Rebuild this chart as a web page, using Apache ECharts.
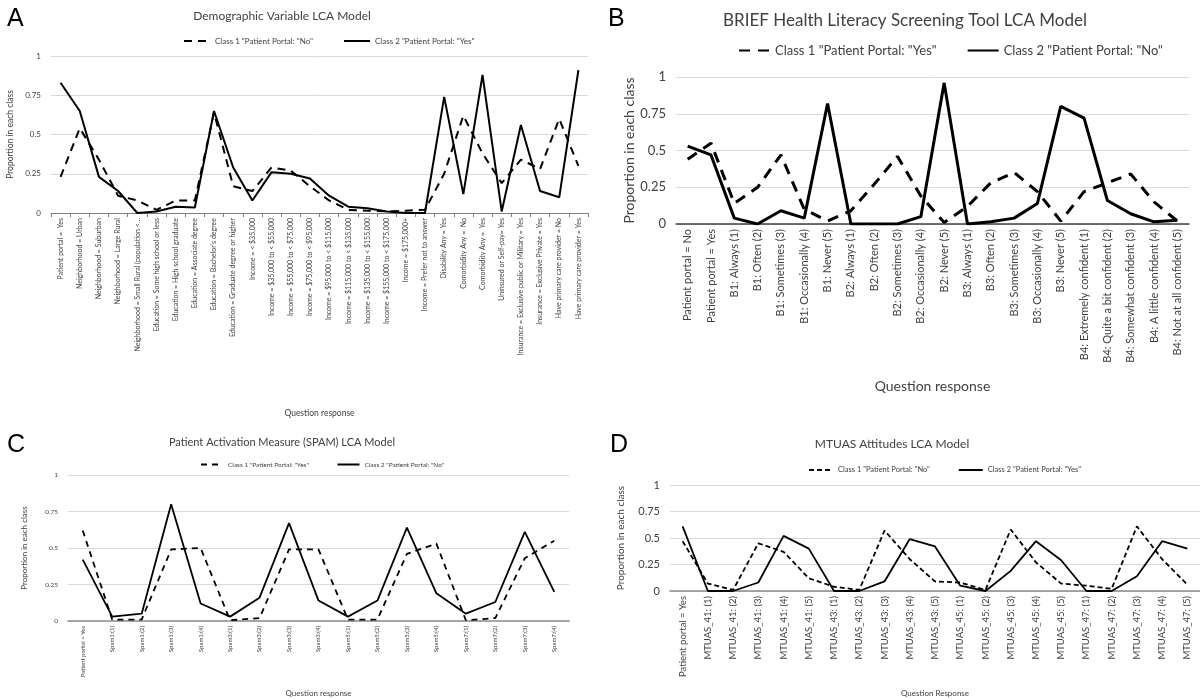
<!DOCTYPE html>
<html>
<head>
<meta charset="utf-8">
<script src="https://cdn.jsdelivr.net/npm/echarts@6/dist/echarts.min.js"></script>
<style>
  html, body { margin: 0; padding: 0; background: #fff; }
  #chart { width: 1200px; height: 699px; }
</style>
</head>
<body>
<div id="chart"></div>
<script>
// ---- data ----
var catsA = ['Patient portal =  Yes', 'Neighborhood = Urban', 'Neighborhood = Suburban', 'Neighborhood = Large Rural',
  'Neighborhood = Small Rural (population <\u2026', 'Education = Some high school or less', 'Education = High school graduate',
  'Education = Associate degree', 'Education = Bachelor\u2019s degree', 'Education = Graduate degree or higher',
  'Income = < $35,000', 'Income = $35,000 to < $55,000', 'Income = $55,000 to < $75,000', 'Income = $75,000 to < $95,000',
  'Income = $95,000 to < $115,000', 'Income = $115,000 to < $135,000', 'Income = $135,000 to < $155,000',
  'Income = $155,000 to < $175,000', 'Income = $175,000+', 'Income = Prefer not to answer', 'Disability Any = Yes',
  'Comorbidity Any =  No', 'Comorbidity Any =  Yes', 'Uninsured or Self-pay= Yes',
  'Insurance = Exclusive public or Military = Yes', 'Insurance = Exclusive Private = Yes',
  'Have primary care provider = No', 'Have primary care provider = Yes'];
var a_class1 = [0.23, 0.54, 0.34, 0.11, 0.08, 0.02, 0.08, 0.08, 0.64, 0.17, 0.14, 0.29, 0.27, 0.17, 0.08, 0.02,
  0.015, 0.01, 0.015, 0.02, 0.25, 0.62, 0.38, 0.19, 0.34, 0.28, 0.60, 0.30];
var a_class2 = [0.83, 0.65, 0.23, 0.14, 0.0, 0.01, 0.04, 0.035, 0.65, 0.29, 0.08, 0.26, 0.25, 0.22, 0.11, 0.04,
  0.03, 0.01, 0.0, 0.0, 0.74, 0.12, 0.88, 0.01, 0.56, 0.14, 0.10, 0.91];

var catsB = ['Patient portal = No', 'Patient portal = Yes', 'B1: Always (1)', 'B1: Often (2)', 'B1: Sometimes (3)',
  'B1: Occasionally (4)', 'B1: Never (5)', 'B2: Always (1)', 'B2: Often (2)', 'B2: Sometimes (3)', 'B2: Occasionally (4)',
  'B2: Never (5)', 'B3: Always (1)', 'B3: Often (2)', 'B3: Sometimes (3)', 'B3: Occasionally (4)', 'B3: Never (5)',
  'B4: Extremely confident (1)', 'B4: Quite a bit confident (2)', 'B4: Somewhat confident (3)',
  'B4: A little confident (4)', 'B4: Not at all confident (5)'];
var b_class1 = [0.44, 0.55, 0.14, 0.25, 0.47, 0.10, 0.02, 0.09, 0.27, 0.46, 0.19, 0.01, 0.12, 0.28, 0.35, 0.22,
  0.02, 0.22, 0.28, 0.34, 0.15, 0.02];
var b_class2 = [0.53, 0.47, 0.04, 0.0, 0.09, 0.04, 0.82, 0.0, 0.0, 0.0, 0.05, 0.96, 0.0, 0.015, 0.04, 0.14,
  0.80, 0.72, 0.16, 0.07, 0.015, 0.025];

var catsC = ['Patient portal = Yes', 'Spam1:(1)', 'Spam1:(2)', 'Spam1:(3)', 'Spam1:(4)', 'Spam3:(1)', 'Spam3:(2)',
  'Spam3:(3)', 'Spam3:(4)', 'Spam5:(1)', 'Spam5:(2)', 'Spam5:(3)', 'Spam5:(4)', 'Spam7:(1)', 'Spam7:(2)',
  'Spam7:(3)', 'Spam7:(4)'];
var c_class1 = [0.62, 0.01, 0.01, 0.49, 0.50, 0.005, 0.02, 0.49, 0.49, 0.01, 0.01, 0.46, 0.53, 0.005, 0.02, 0.43, 0.55];
var c_class2 = [0.42, 0.03, 0.05, 0.80, 0.12, 0.03, 0.16, 0.67, 0.14, 0.03, 0.14, 0.64, 0.19, 0.05, 0.13, 0.61, 0.20];

var catsD = ['Patient portal = Yes', 'MTUAS_41: (1)', 'MTUAS_41: (2)', 'MTUAS_41: (3)', 'MTUAS_41: (4)', 'MTUAS_41: (5)',
  'MTUAS_43: (1)', 'MTUAS_43: (2)', 'MTUAS_43: (3)', 'MTUAS_43: (4)', 'MTUAS_43: (5)',
  'MTUAS_45: (1)', 'MTUAS_45: (2)', 'MTUAS_45: (3)', 'MTUAS_45: (4)', 'MTUAS_45: (5)',
  'MTUAS_47: (1)', 'MTUAS_47: (2)', 'MTUAS_47: (3)', 'MTUAS_47: (4)', 'MTUAS_47: (5)'];
var d_class1 = [0.47, 0.07, 0.01, 0.45, 0.37, 0.12, 0.04, 0.01, 0.57, 0.30, 0.09, 0.08, 0.01, 0.58, 0.27, 0.07,
  0.05, 0.02, 0.61, 0.30, 0.06];
var d_class2 = [0.61, 0.0, 0.0, 0.08, 0.52, 0.40, 0.0, 0.0, 0.09, 0.49, 0.42, 0.05, 0.0, 0.19, 0.47, 0.29,
  0.0, 0.0, 0.14, 0.47, 0.40];

// legend names (trailing spaces keep C/D separate from A/B)
var nameA1 = 'Class 1 "Patient Portal: "No"', nameA2 = 'Class 2 "Patient Portal: "Yes"';
var nameB1 = 'Class 1 "Patient Portal: "Yes"', nameB2 = 'Class 2 "Patient Portal: "No"';
var nameC1 = nameB1 + ' ', nameC2 = nameB2 + ' ';
var nameD1 = nameA1 + ' ', nameD2 = nameA2 + ' ';

var FONT = 'Lato, "Open Sans", sans-serif';
var TXT = '#404040';

var myChart = echarts.init(document.getElementById('chart'));

// 画一个面板的坐标轴
function xAx(idx, cats, fs, gap, name, nfs, lineColor, lineW, ticks) {
  return {
    type: 'category', gridIndex: idx, data: cats, boundaryGap: true,
    name: name, nameLocation: 'middle', nameGap: gap,
    nameTextStyle: { fontFamily: FONT, fontSize: nfs, color: TXT },
    axisLine: { lineStyle: { color: lineColor, width: lineW } },
    axisTick: { show: ticks, length: 4, interval: 0, lineStyle: { color: lineColor } },
    axisLabel: { interval: 0, rotate: 90, fontFamily: FONT, fontSize: fs, color: TXT, margin: 5 }
  };
}
function yAx(idx, fs, gap, nfs) {
  return {
    type: 'value', gridIndex: idx, min: 0, max: 1, interval: 0.25,
    name: 'Proportion in each class', nameLocation: 'middle', nameGap: gap, nameRotate: 90,
    nameTextStyle: { fontFamily: FONT, fontSize: nfs, color: TXT },
    axisLine: { show: false }, axisTick: { show: false },
    axisLabel: { fontFamily: FONT, fontSize: fs, color: TXT, margin: 10 },
    splitLine: { lineStyle: { color: '#d9d9d9', width: 1 } }
  };
}
function line(name, idx, data, w, dash) {
  return {
    name: name, type: 'line', xAxisIndex: idx, yAxisIndex: idx, data: data,
    symbol: 'none', smooth: false, animation: false,
    lineStyle: { color: '#000', width: w, type: dash ? dash : 'solid' },
    itemStyle: { color: '#000' }
  };
}
function ttl(text, left, top, fs, fam, col) {
  return { text: text, left: left, top: top, textAlign: fam ? 'left' : 'center',
    textStyle: { fontFamily: fam || FONT, fontSize: fs, fontWeight: 'normal', color: col || TXT } };
}
function lg(names, left, top, fs, iw, gap) {
  // 图例只画线，不画圆点
  return { data: names, left: left, top: top, itemWidth: iw, itemHeight: 8, itemGap: gap, selectedMode: false,
    itemStyle: { opacity: 0 },
    textStyle: { fontFamily: FONT, fontSize: fs, color: TXT } };
}

var option = {
  backgroundColor: '#fff',
  animation: false,
  title: [
    ttl('A', 2, 2, 25, '"Liberation Sans", Arial', '#000'),
    ttl('B', 603, 2, 25, '"Liberation Sans", Arial', '#000'),
    ttl('C', 2, 428, 25, '"Liberation Sans", Arial', '#000'),
    ttl('D', 605, 428, 25, '"Liberation Sans", Arial', '#000'),
    ttl('Demographic Variable LCA Model', 277, 5, 12),
    ttl('BRIEF Health Literacy Screening Tool LCA Model', 900, 7, 17),
    ttl('Patient Activation Measure (SPAM) LCA Model', 277, 432, 11),
    ttl('MTUAS Attitudes LCA Model', 887, 433, 12)
  ],
  legend: [
    lg([nameA1, nameA2], 178, 32, 8, 26, 30),
    lg([nameB1, nameB2], 733, 39, 13, 31, 30),
    lg([nameC1, nameC2], 195, 456, 6.5, 22, 26),
    lg([nameD1, nameD2], 803, 461, 7.5, 24, 26)
  ],
  grid: [
    { left: 51, right: 612, top: 56, bottom: 486, containLabel: false, outerBoundsMode: 'none' },
    { left: 676, right: 11, top: 77, bottom: 475, containLabel: false, outerBoundsMode: 'none' },
    { left: 68, right: 631, top: 475, bottom: 78, containLabel: false, outerBoundsMode: 'none' },
    { left: 670, right: 0, top: 485, bottom: 108, containLabel: false, outerBoundsMode: 'none' }
  ],
  xAxis: [
    xAx(0, catsA, 7, 196, 'Question response', 8.5, '#7f7f7f', 1, true),
    xAx(1, catsB, 11, 155, 'Question response', 14, '#404040', 1.5, false),
    xAx(2, catsC, 6, 68, 'Question response', 8, '#a6a6a6', 2, false),
    xAx(3, catsD, 9.5, 98, 'Question Response', 8, '#8c8c8c', 1.5, false)
  ],
  yAxis: [
    yAx(0, 8, 36, 8.5),
    yAx(1, 13, 36, 14),
    yAx(2, 6.5, 40, 8),
    yAx(3, 11, 44, 10)
  ],
  series: [
    line(nameA1, 0, a_class1, 2, [8, 6]),
    line(nameA2, 0, a_class2, 2),
    line(nameB1, 1, b_class1, 3, [11, 8]),
    line(nameB2, 1, b_class2, 3),
    line(nameC1, 2, c_class1, 1.8, [6, 5]),
    line(nameC2, 2, c_class2, 1.8),
    line(nameD1, 3, d_class1, 1.8, [5, 3]),
    line(nameD2, 3, d_class2, 1.8)
  ]
};
myChart.setOption(option);
</script>
</body>
</html>
